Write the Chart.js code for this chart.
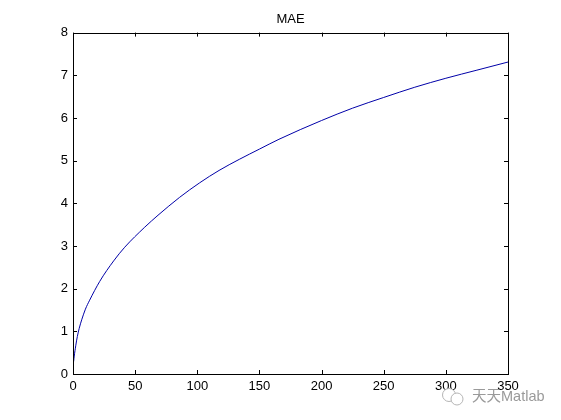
<!DOCTYPE html>
<html>
<head>
<meta charset="utf-8">
<title>MAE</title>
<script src="https://cdn.jsdelivr.net/npm/chart.js@4/dist/chart.umd.min.js"></script>
<style>
    html, body { margin: 0; padding: 0; background: #fff; overflow: hidden; }
    #wrap { position: relative; width: 561px; height: 420px; }
    #wm-text { position: absolute; left: 472px; top: 387px; font: 14.5px "Liberation Sans", "Noto Sans CJK SC", sans-serif; color: #9a9a9a; white-space: nowrap; line-height: 18px; }
    #wm-icon { position: absolute; left: 440px; top: 387px; }
</style>
</head>
<body>
<div id="wrap">
    <canvas id="grafico" width="561" height="420"></canvas>
    <svg id="wm-icon" width="26" height="20" fill="#fff" stroke="#b5b5b5" stroke-width="1">
        <circle cx="9" cy="8" r="6.5"/>
        <circle cx="17" cy="12" r="6"/>
    </svg>
    <div id="wm-text">天天Matlab</div>
</div>
<script>
// valores
const iterations = [0.5, 1, 2.2, 3.5, 5, 7, 10, 13.4, 21.5, 32.7, 41.6, 57.7, 68.4, 85.8, 101.9, 117.5, 133.8, 150, 165.7, 200, 225, 250, 275, 300, 325, 350];
const maeValues = [0.29, 0.42, 0.66, 0.88, 1.07, 1.27, 1.52, 1.73, 2.17, 2.65, 2.97, 3.44, 3.72, 4.14, 4.48, 4.77, 5.03, 5.27, 5.50, 5.94, 6.23, 6.48, 6.72, 6.93, 7.12, 7.31];
const xTicks = [0, 50, 100, 150, 200, 250, 300, 350];
const yTicks = [0, 1, 2, 3, 4, 5, 6, 7, 8];

const FONT = { family: '"Liberation Sans", Arial, sans-serif', size: 13 };

// ticks para dentro nos quatro lados, estilo Matlab
const inwardTicks = {
    id: 'inwardTicks',
    afterDatasetsDraw(chart) {
        const { ctx, chartArea: a, scales: { x, y } } = chart;
        ctx.save();
        ctx.strokeStyle = '#000';
        ctx.lineWidth = 1;
        ctx.beginPath();
        xTicks.forEach(v => {
            const px = Math.round(x.getPixelForValue(v)) + 0.5;
            ctx.moveTo(px, a.bottom); ctx.lineTo(px, a.bottom - 4);
            ctx.moveTo(px, a.top); ctx.lineTo(px, a.top + 4);
        });
        yTicks.forEach(v => {
            const py = Math.round(y.getPixelForValue(v)) + 0.5;
            ctx.moveTo(a.left, py); ctx.lineTo(a.left + 4, py);
            ctx.moveTo(a.right, py); ctx.lineTo(a.right - 4, py);
        });
        ctx.stroke();
        ctx.strokeRect(Math.round(a.left) + 0.5, Math.round(a.top) + 0.5, Math.round(a.right - a.left), Math.round(a.bottom - a.top));
        ctx.restore();
    }
};

new Chart(document.getElementById('grafico'), {
    type: 'line',
    data: {
        datasets: [{
            label: 'MAE',
            data: iterations.map((v, i) => ({ x: v, y: maeValues[i] })),
            borderColor: '#0000a8',
            borderWidth: 1,
            pointRadius: 0,
            cubicInterpolationMode: 'monotone'
        }]
    },
    options: {
        responsive: false,
        animation: false,
        layout: { padding: { top: 0, right: 53, bottom: 0, left: 0 } },
        plugins: {
            legend: { display: false },
            tooltip: { enabled: false },
            title: {
                display: true,
                text: 'MAE',
                fullSize: false,
                color: '#000',
                font: { ...FONT, weight: 'normal' },
                padding: { top: 12, bottom: 5 }
            }
        },
        scales: {
            x: {
                type: 'linear',
                min: 0,
                max: 350,
                grid: { display: false, drawTicks: false },
                border: { display: false },
                afterFit(scale) { scale.height = 46; },
                afterBuildTicks(scale) { scale.ticks = xTicks.map(v => ({ value: v })); },
                ticks: { color: '#000', font: FONT, maxRotation: 0, padding: 5 }
            },
            y: {
                min: 0,
                max: 8,
                grid: { display: false, drawTicks: false },
                border: { display: false },
                afterFit(scale) { scale.width = 73; },
                afterBuildTicks(scale) { scale.ticks = yTicks.map(v => ({ value: v })); },
                ticks: { color: '#000', font: FONT, padding: 5 }
            }
        }
    },
    plugins: [inwardTicks]
});
</script>
</body>
</html>
